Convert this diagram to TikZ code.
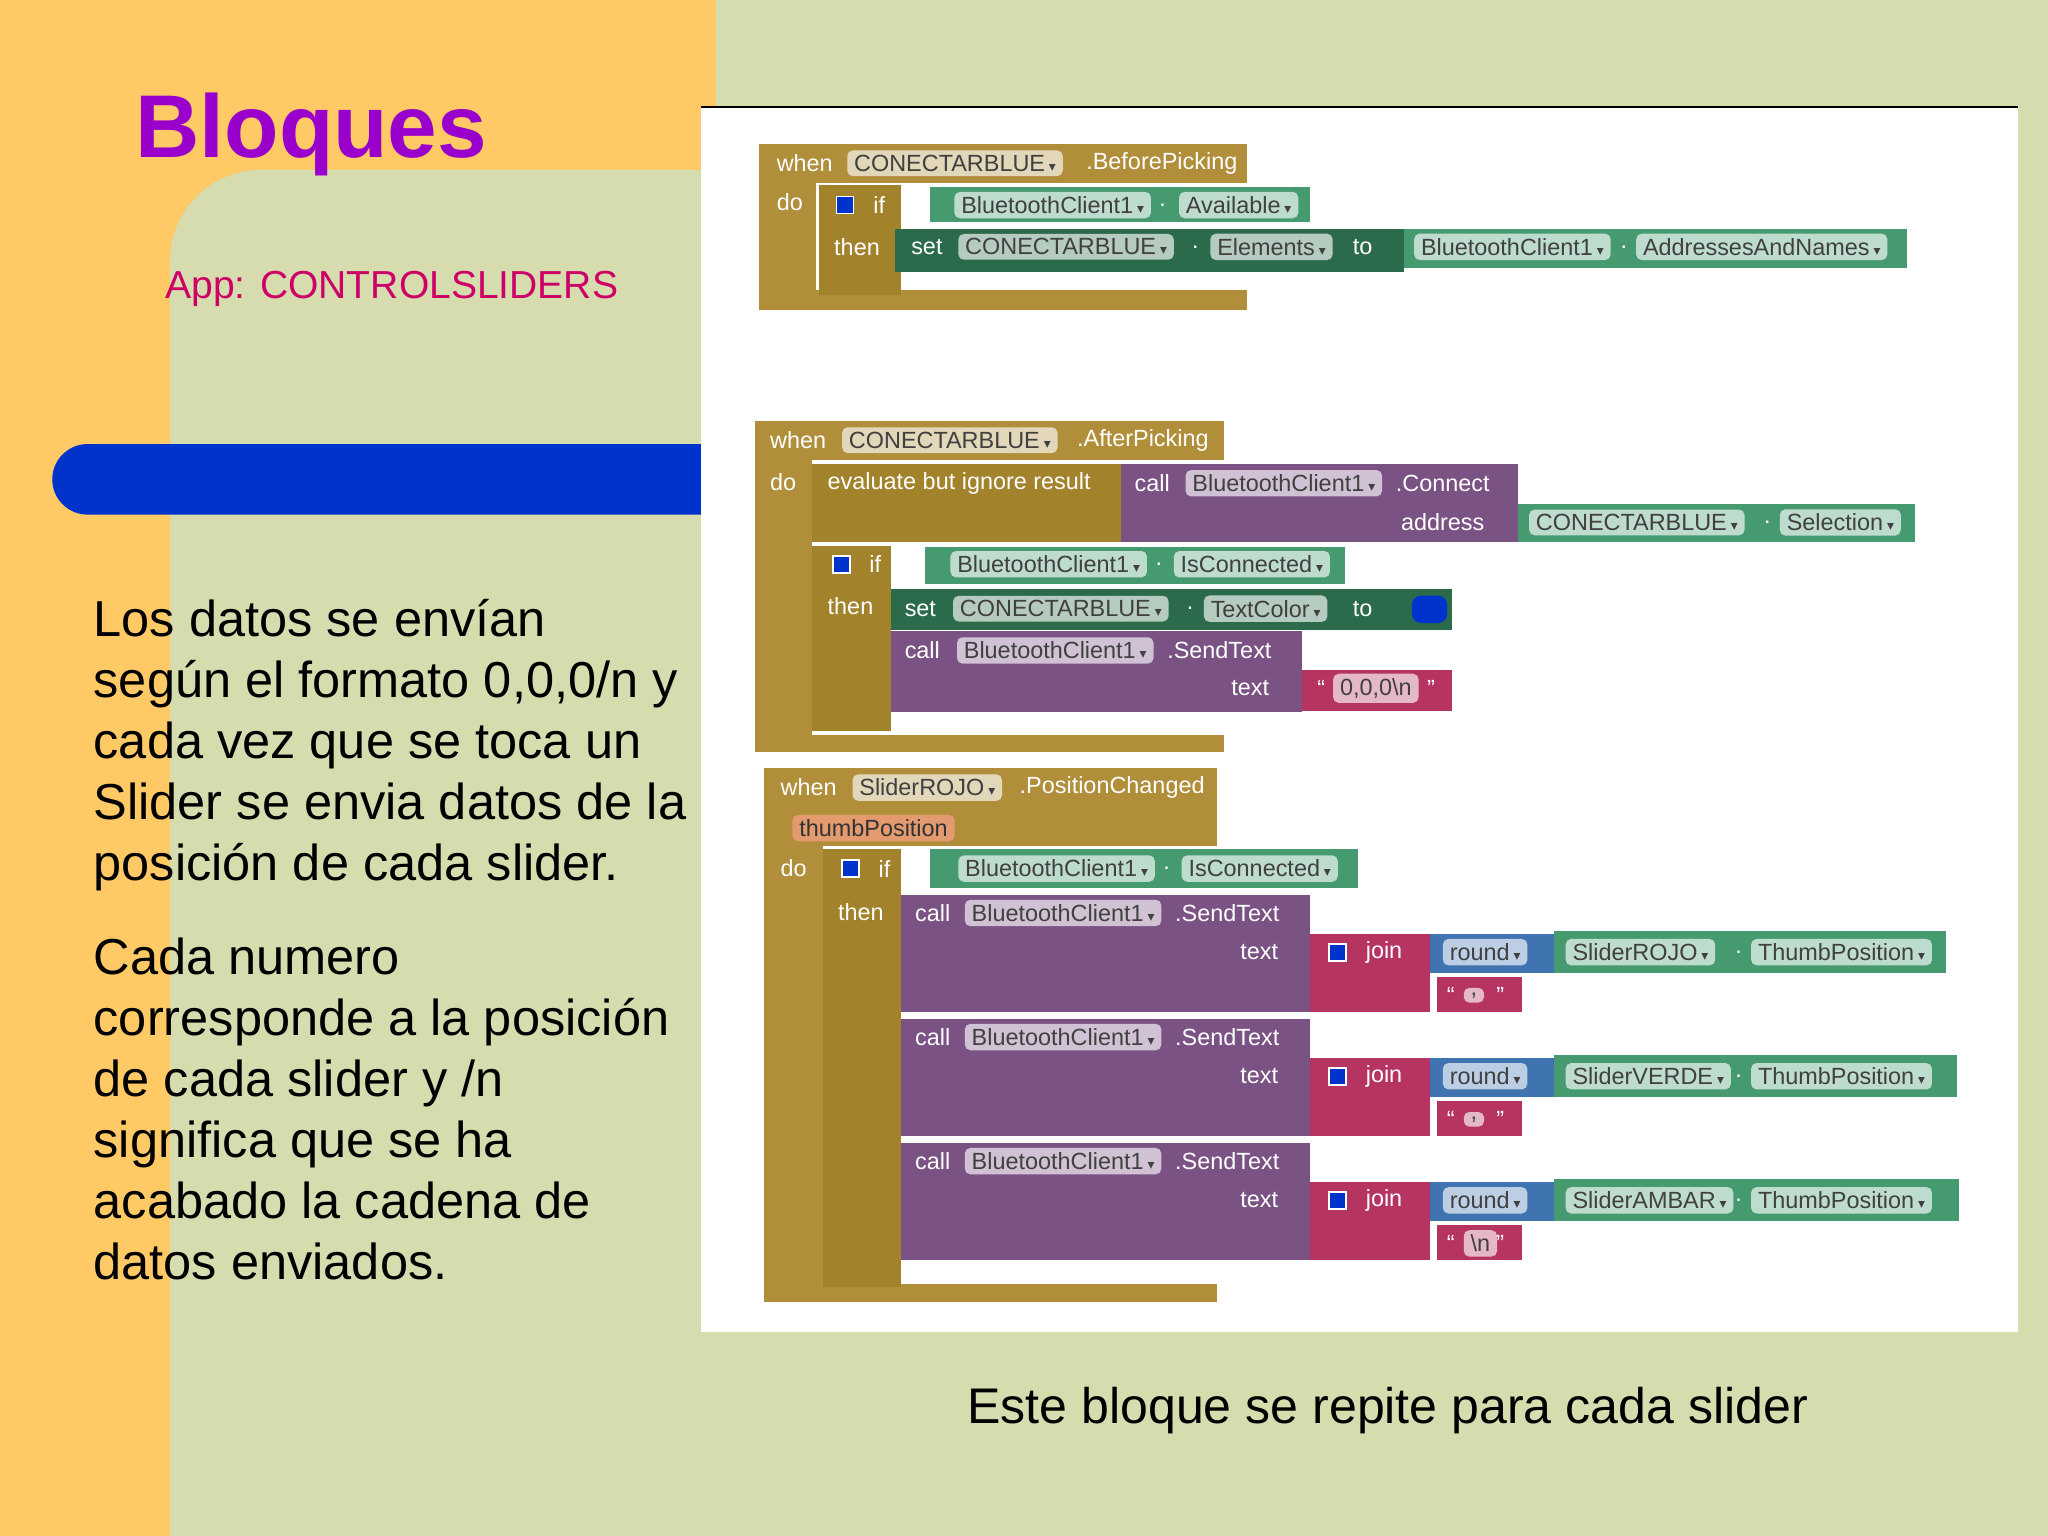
\documentclass[tikz,border=0pt]{standalone}
\usepackage{fontspec}
\setmainfont{Liberation Sans}
\newfontfamily\djfont{DejaVu Sans}
\definecolor{bgg}{HTML}{D7DCAE}
\definecolor{org}{HTML}{FFC966}
\definecolor{ttl}{HTML}{9900CC}
\definecolor{app}{HTML}{CC0066}
\definecolor{blu}{HTML}{0033CC}
\definecolor{gold}{HTML}{B08E3A}
\definecolor{goldd}{HTML}{A3822C}
\definecolor{dgr}{HTML}{2C6A4C}
\definecolor{lgr}{HTML}{469A70}
\definecolor{pur}{HTML}{7A5283}
\definecolor{pnk}{HTML}{B53461}
\definecolor{rbl}{HTML}{4074B0}
\definecolor{prm}{HTML}{E39A6E}
\tikzset{
 bf/.style={font=\fontsize{5.1}{6}\selectfont},
 lbl/.style={bf,text=white,inner sep=0pt,anchor=west},
 fld/.style={bf,text=black!75,rounded corners=1.2pt,inner xsep=1.5pt,inner ysep=1pt,anchor=west},
}
\newcommand{\arr}{\,{\djfont\fontsize{3}{3}\selectfont ▾}}
\newcommand{\rr}[5]{\fill[#5] (#1,#2) rectangle (#3,#4);}
\newcommand{\fd}[4]{\node[fld,fill=#3!35!white] at (#1,#2) {#4\arr};}
\newcommand{\lb}[3]{\node[lbl] at (#1,#2) {#3};}
\newcommand{\mut}[2]{\node[draw=white,fill=blu,minimum size=0.13cm,inner sep=0pt,line width=0.4pt] at (#1,#2) {};}
\begin{document}
\begin{tikzpicture}[x=0.01cm,y=-0.01cm]
\useasboundingbox (0,0) rectangle (1568,1176);
\fill[bgg] (0,0) rectangle (1568,1176);
\fill[org] (0,0) rectangle (548,1176);
\fill[bgg,rounded corners=0.7cm] (130,1300) -- (130,130) -- (700,130) -- (700,1300) -- cycle;
\fill[blu,rounded corners=0.27cm] (600,340) -- (40,340) -- (40,394) -- (600,394) -- cycle;
\fill[white] (537,82) rectangle (1545,1020);
\draw[black,line width=0.6pt] (537,82) -- (1545,82);
\node[anchor=west,text=ttl,font=\bfseries\fontsize{19.4}{21}\selectfont,inner sep=0pt] (t) at (103,103) {Bloques};
\node[anchor=west,text=app,font=\fontsize{8.5}{10}\selectfont,inner sep=0pt] (a) at (126,221) {App: CONTROLSLIDERS};
\node[anchor=north west,align=left,font=\fontsize{11}{13.3}\selectfont,inner sep=0pt] (b1) at (71,458) {Los datos se envían\\según el formato 0,0,0/n y\\cada vez que se toca un\\Slider se envia datos de la\\posición de cada slider.};
\node[anchor=north west,align=left,font=\fontsize{11}{13.3}\selectfont,inner sep=0pt] (b2) at (71,717) {Cada numero\\corresponde a la posición\\de cada slider y /n\\significa que se ha\\acabado la cadena de\\datos enviados.};
\node[anchor=west,font=\fontsize{10.9}{13}\selectfont,inner sep=0pt] (c) at (740,1080) {Este bloque se repite para cada slider};
% ---- block 1
\rr{581}{110}{955}{140}{gold}\rr{581}{110}{625}{237}{gold}\rr{581}{222}{955}{237}{gold}
\lb{594}{125}{when}\fd{648}{125}{gold}{CONECTARBLUE}\lb{831}{125}{.BeforePicking}\lb{594}{155}{do}
\rr{627}{142}{690}{226}{goldd}\mut{647}{157}\lb{668}{157}{if}\lb{638}{189}{then}
\rr{712}{143}{1003}{170}{lgr}\fd{730}{157}{lgr}{BluetoothClient1}\lb{887}{157}{.}\fd{902}{157}{lgr}{Available}
\rr{685}{175}{1075}{208}{dgr}\lb{697}{189}{set}\fd{733}{189}{dgr}{CONECTARBLUE}\lb{912}{189}{.}\fd{926}{189}{dgr}{Elements}\lb{1035}{189}{to}
\rr{1075}{175}{1460}{205}{lgr}\fd{1082}{189}{lgr}{BluetoothClient1}\lb{1240}{189}{.}\fd{1252}{189}{lgr}{AddressesAndNames}
% ---- block 2
\rr{578}{322}{937}{352}{gold}\rr{578}{322}{622}{576}{gold}\rr{578}{563}{937}{576}{gold}
\lb{589}{337}{when}\fd{644}{337}{gold}{CONECTARBLUE}\lb{824}{337}{.AfterPicking}\lb{589}{369}{do}
\rr{622}{355}{858}{415}{goldd}\lb{633}{370}{evaluate but ignore result}
\rr{858}{355}{1162}{415}{pur}\lb{868}{370}{call}\fd{907}{370}{pur}{BluetoothClient1}\lb{1068}{370}{.Connect}\lb{1072}{400}{address}
\rr{1162}{386}{1466}{415}{lgr}\fd{1170}{400}{lgr}{CONECTARBLUE}\lb{1350}{400}{.}\fd{1362}{400}{lgr}{Selection}
\rr{622}{418}{682}{560}{goldd}\mut{644}{432}\lb{665}{432}{if}\lb{633}{464}{then}
\rr{708}{419}{1030}{447}{lgr}\fd{727}{432}{lgr}{BluetoothClient1}\lb{884}{432}{.}\fd{898}{432}{lgr}{IsConnected}
\rr{682}{451}{1075}{482}{dgr}\lb{692}{466}{set}\fd{729}{466}{dgr}{CONECTARBLUE}\lb{908}{466}{.}\fd{921}{466}{dgr}{TextColor}\lb{1035}{466}{to}
\rr{1075}{451}{1112}{482}{dgr}\fill[blu,rounded corners=2pt] (1081,456) rectangle (1108,477);
\rr{682}{483}{997}{545}{pur}\lb{692}{498}{call}\fd{732}{498}{pur}{BluetoothClient1}\lb{893}{498}{.SendText}\lb{942}{527}{text}
\rr{997}{513}{1112}{544}{pnk}\lb{1008}{527}{``}\node[fld,fill=pnk!35!white] at (1020,527) {0,0,0\textbackslash n};\lb{1092}{527}{''}
% ---- block 3
\rr{585}{588}{932}{648}{gold}\rr{585}{588}{630}{997}{gold}\rr{585}{983}{932}{997}{gold}
\lb{597}{603}{when}\fd{652}{603}{gold}{SliderROJO}\lb{780}{603}{.PositionChanged}
\node[fld,fill=prm,text=black!80] at (606,634) {thumbPosition};\lb{597}{665}{do}
\rr{630}{650}{690}{985}{goldd}\mut{651}{665}\lb{672}{665}{if}\lb{641}{698}{then}
\rr{712}{650}{1040}{680}{lgr}\fd{733}{665}{lgr}{BluetoothClient1}\lb{890}{665}{.}\fd{904}{665}{lgr}{IsConnected}
\foreach \yy/\sl/\ch/\ww in {0/SliderROJO/{,}/1490,95/SliderVERDE/{,}/1498,190/SliderAMBAR/\textbackslash n/1500}{
 \rr{690}{685+\yy}{1003}{775+\yy}{pur}
 \lb{700}{699+\yy}{call}\fd{738}{699+\yy}{pur}{BluetoothClient1}\lb{899}{699+\yy}{.SendText}\lb{949}{729+\yy}{text}
 \rr{1003}{715+\yy}{1095}{775+\yy}{pnk}\mut{1024}{729+\yy}\lb{1045}{729+\yy}{join}
 \rr{1095}{715+\yy}{1190}{745+\yy}{rbl}\fd{1104}{729+\yy}{rbl}{round}
 \rr{1190}{713+\yy}{\ww}{745+\yy}{lgr}\fd{1198}{729+\yy}{lgr}{\sl}\lb{1328}{729+\yy}{.}\fd{1340}{729+\yy}{lgr}{ThumbPosition}
 \rr{1100}{748+\yy}{1165}{775+\yy}{pnk}\lb{1107}{762+\yy}{``}\node[fld,fill=pnk!35!white] at (1120,762+\yy) {\ch};\lb{1145}{762+\yy}{''}
}
\end{tikzpicture}
\end{document}
